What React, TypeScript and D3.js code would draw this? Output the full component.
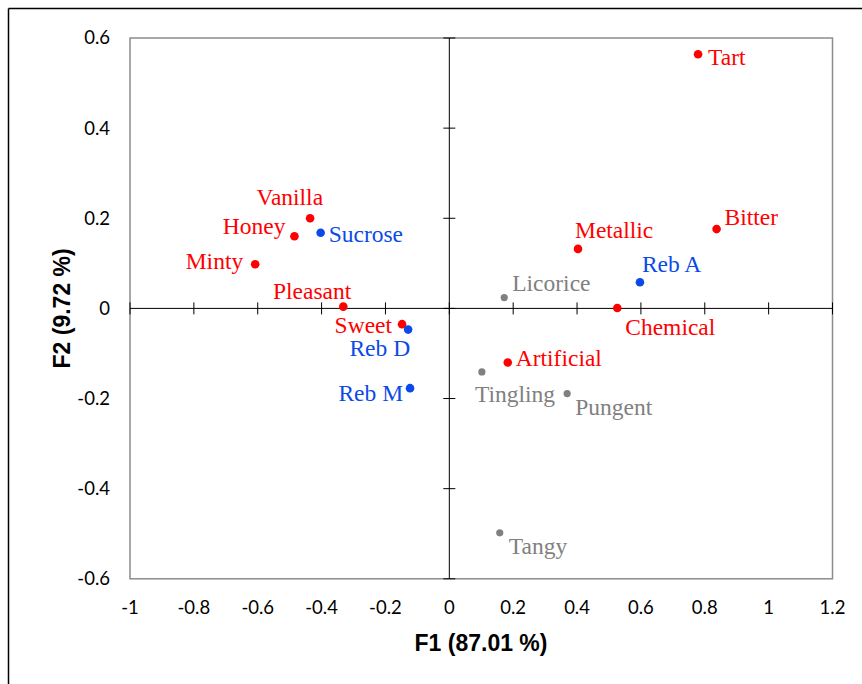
import React from "react";
import * as d3 from "d3";

// attribute names, F1 / F2 coordinates
const attrNames = ["Tart", "Bitter", "Metallic", "Chemical", "Artificial", "Vanilla", "Honey", "Minty", "Pleasant", "Sweet"];
const attrF1 = [0.779, 0.837, 0.403, 0.526, 0.183, -0.436, -0.485, -0.608, -0.332, -0.148];
const attrF2 = [0.564, 0.176, 0.132, 0.001, -0.12, 0.2, 0.16, 0.098, 0.004, -0.035];

const sweetenerNames = ["Reb A", "Sucrose", "Reb D", "Reb M"];
const sweetenerF1 = [0.597, -0.403, -0.129, -0.123];
const sweetenerF2 = [0.058, 0.168, -0.047, -0.177];

const suppNames = ["Licorice", "Tingling", "Pungent", "Tangy"];
const suppF1 = [0.172, 0.102, 0.369, 0.158];
const suppF2 = [0.024, -0.141, -0.189, -0.498];

const xTicks = [-1, -0.8, -0.6, -0.4, -0.2, 0, 0.2, 0.4, 0.6, 0.8, 1, 1.2];
const yTicks = [-0.6, -0.4, -0.2, 0, 0.2, 0.4, 0.6];

// where each label sits relative to its point (pixels)
const labelPos: Record<string, [number, number, string]> = {
  Tart: [10, 11, "start"],
  Bitter: [8, -4, "start"],
  Metallic: [-3, -11, "start"],
  Chemical: [8, 27, "start"],
  Artificial: [8, 4, "start"],
  Vanilla: [13, -13, "end"],
  Honey: [-9, -2, "end"],
  Minty: [-12, 5, "end"],
  Pleasant: [8, -8, "end"],
  Sweet: [-10, 9, "end"],
  "Reb A": [2, -10, "start"],
  Sucrose: [8, 9, "start"],
  "Reb D": [2, 26, "end"],
  "Reb M": [-7, 13, "end"],
  Licorice: [8, -7, "start"],
  Tingling: [-7, 30, "start"],
  Pungent: [8, 21, "start"],
  Tangy: [9, 21, "start"],
};

const RED = "#ff0000";
const BLUE = "#0b4ae6";
const GREY = "#808080";

export default function App() {
  const W = 862, H = 684;
  const x = d3.scaleLinear().domain([-1, 1.2]).range([130, 832.5]);
  const y = d3.scaleLinear().domain([-0.6, 0.6]).range([578.8, 38]);

  const groups = [
    { names: attrNames, f1: attrF1, f2: attrF2, color: RED, r: 4.3 },
    { names: sweetenerNames, f1: sweetenerF1, f2: sweetenerF2, color: BLUE, r: 4.3 },
    { names: suppNames, f1: suppF1, f2: suppF2, color: GREY, r: 3.6 },
  ];

  const tickFont = "Lato, 'Open Sans', sans-serif";
  const labelFont = "'Liberation Serif', 'Times New Roman', serif";

  return (
    <div style={{ position: "fixed", left: 0, top: 0 }}>
      <svg width={W} height={H} style={{ display: "block", background: "#fff" }}>
        {/* outer chart border, only top and left show */}
        <line x1={8.5} x2={W} y1={8.5} y2={8.5} stroke="#000" strokeWidth={1.5} />
        <line x1={8.5} x2={8.5} y1={8.5} y2={H} stroke="#000" strokeWidth={1.5} />

        {/* plot frame */}
        <rect x={x(-1)} y={y(0.6)} width={x(1.2) - x(-1)} height={y(-0.6) - y(0.6)}
          fill="none" stroke="#8c8c8c" strokeWidth={1.5} />

        {/* axes through the origin */}
        <line x1={x(-1)} x2={x(1.2)} y1={y(0)} y2={y(0)} stroke="#000" strokeWidth={1} />
        <line x1={x(0)} x2={x(0)} y1={y(0.6)} y2={y(-0.6)} stroke="#000" strokeWidth={1} />
        {xTicks.map((t) => (
          <line key={"xt" + t} x1={x(t)} x2={x(t)} y1={y(0) - 6} y2={y(0) + 6} stroke="#000" />
        ))}
        {yTicks.map((t) => (
          <line key={"yt" + t} x1={x(0) - 6} x2={x(0) + 6} y1={y(t)} y2={y(t)} stroke="#000" />
        ))}

        {/* tick labels */}
        {xTicks.map((t) => (
          <text key={"xl" + t} x={x(t)} y={614} textAnchor="middle" fontFamily={tickFont}
            fontSize={18.5} fill="#000">{t}</text>
        ))}
        {yTicks.map((t) => (
          <text key={"yl" + t} x={110} y={y(t)} dy="0.35em" textAnchor="end" fontFamily={tickFont}
            fontSize={18.5} fill="#000">{t}</text>
        ))}

        {/* axis titles */}
        <text x={481} y={651} textAnchor="middle" fontFamily="'Liberation Sans', Arial, sans-serif"
          fontWeight="bold" fontSize={23} fill="#000">F1 (87.01 %)</text>
        <text transform={`translate(70,${y(0)}) rotate(-90)`} textAnchor="middle"
          fontFamily="'Liberation Sans', Arial, sans-serif" fontWeight="bold" fontSize={23}
          fill="#000">F2 (9.72 %)</text>

        {/* points and labels */}
        {groups.map((g) =>
          g.names.map((n, i) => {
            const px = x(g.f1[i]);
            const py = y(g.f2[i]);
            const [dx, dy, anchor] = labelPos[n];
            return (
              <g key={n}>
                <circle cx={px} cy={py} r={g.r} fill={g.color} />
                <text x={px + dx} y={py + dy} textAnchor={anchor} fontFamily={labelFont}
                  fontSize={23.5} fill={g.color}>{n}</text>
              </g>
            );
          })
        )}
      </svg>
    </div>
  );
}
